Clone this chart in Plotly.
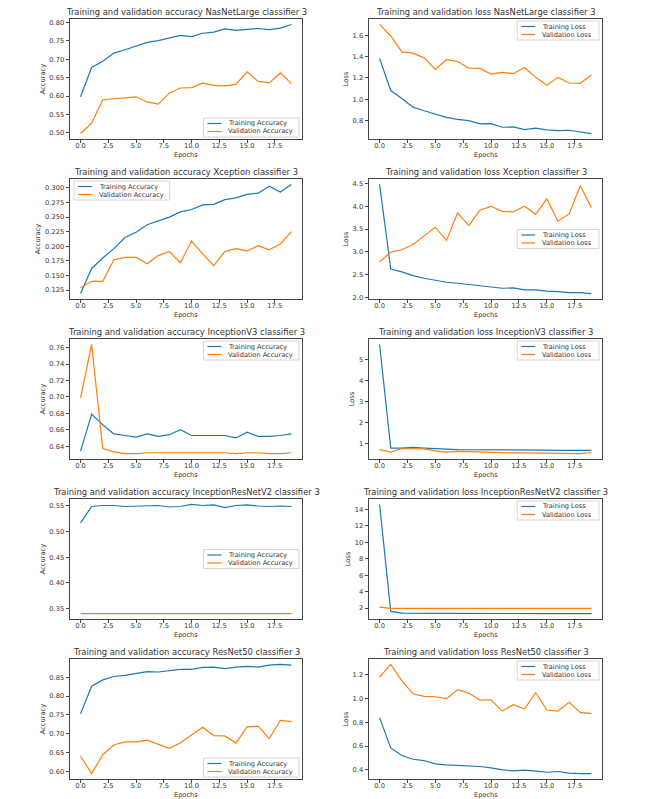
import plotly.graph_objects as go

epochs = list(range(20))

nasnet_train_acc = [0.598, 0.678, 0.695, 0.717, 0.726, 0.737, 0.746, 0.751, 0.759, 0.765,
                    0.762, 0.771, 0.774, 0.783, 0.779, 0.782, 0.784, 0.781, 0.785, 0.795]
nasnet_val_acc = [0.498, 0.526, 0.590, 0.593, 0.596, 0.598, 0.584, 0.578, 0.608, 0.622,
                  0.623, 0.635, 0.629, 0.628, 0.632, 0.666, 0.640, 0.636, 0.663, 0.634]
nasnet_train_loss = [1.383, 1.082, 1.008, 0.927, 0.893, 0.862, 0.831, 0.812, 0.800, 0.769,
                     0.772, 0.738, 0.741, 0.716, 0.729, 0.713, 0.707, 0.710, 0.695, 0.679]
nasnet_val_loss = [1.702, 1.594, 1.445, 1.433, 1.389, 1.281, 1.371, 1.355, 1.293, 1.290,
                   1.237, 1.253, 1.240, 1.299, 1.206, 1.132, 1.206, 1.153, 1.150, 1.228]

xception_train_acc = [0.119, 0.162, 0.180, 0.196, 0.215, 0.224, 0.237, 0.244, 0.250, 0.259,
                      0.263, 0.271, 0.272, 0.280, 0.283, 0.289, 0.291, 0.303, 0.293, 0.306]
xception_val_acc = [0.129, 0.140, 0.140, 0.177, 0.181, 0.181, 0.170, 0.184, 0.191, 0.172,
                    0.209, 0.187, 0.167, 0.191, 0.196, 0.192, 0.201, 0.194, 0.204, 0.225]
xception_train_loss = [4.485, 2.621, 2.556, 2.475, 2.417, 2.373, 2.329, 2.307, 2.278, 2.256,
                       2.234, 2.197, 2.205, 2.161, 2.161, 2.132, 2.124, 2.102, 2.102, 2.080]
xception_val_loss = [2.775, 2.994, 3.045, 3.162, 3.352, 3.542, 3.250, 3.857, 3.579, 3.915,
                     4.003, 3.893, 3.879, 4.003, 3.827, 4.164, 3.674, 3.835, 4.456, 3.974]

inception_train_acc = [0.634, 0.679, 0.666, 0.655, 0.653, 0.651, 0.655, 0.652, 0.654, 0.660,
                       0.653, 0.653, 0.653, 0.653, 0.650, 0.657, 0.652, 0.652, 0.653, 0.655]
inception_val_acc = [0.699, 0.764, 0.637, 0.633, 0.631, 0.631, 0.632, 0.632, 0.632, 0.632,
                     0.632, 0.632, 0.632, 0.632, 0.631, 0.632, 0.632, 0.631, 0.631, 0.632]
inception_train_loss = [5.72, 0.80, 0.80, 0.83, 0.80, 0.76, 0.75, 0.73, 0.73, 0.72,
                        0.70, 0.70, 0.70, 0.70, 0.72, 0.70, 0.69, 0.69, 0.69, 0.69]
inception_val_loss = [0.73, 0.61, 0.78, 0.78, 0.76, 0.67, 0.61, 0.64, 0.62, 0.61,
                      0.59, 0.56, 0.57, 0.57, 0.57, 0.57, 0.57, 0.57, 0.54, 0.59]

incres_train_acc = [0.517, 0.549, 0.551, 0.551, 0.549, 0.550, 0.551, 0.551, 0.548, 0.549,
                    0.553, 0.551, 0.552, 0.547, 0.551, 0.552, 0.550, 0.549, 0.550, 0.549]
incres_val_acc = [0.340] * 20
incres_train_loss = [14.6, 1.60, 1.39, 1.35, 1.39, 1.35, 1.35, 1.34, 1.34, 1.34,
                     1.34, 1.34, 1.34, 1.34, 1.34, 1.34, 1.34, 1.34, 1.34, 1.34]
incres_val_loss = [2.12, 1.96, 1.96, 1.96, 1.96, 1.97, 1.98, 1.97, 1.97, 1.97,
                   1.97, 1.97, 1.97, 2.00, 2.04, 2.04, 2.00, 1.97, 1.97, 1.97]

resnet_train_acc = [0.753, 0.826, 0.843, 0.852, 0.855, 0.861, 0.865, 0.864, 0.867, 0.871,
                    0.871, 0.876, 0.877, 0.873, 0.877, 0.879, 0.877, 0.882, 0.884, 0.882]
resnet_val_acc = [0.640, 0.594, 0.644, 0.670, 0.678, 0.678, 0.683, 0.672, 0.661, 0.676,
                  0.697, 0.717, 0.695, 0.694, 0.675, 0.718, 0.720, 0.687, 0.735, 0.732]
resnet_train_loss = [0.838, 0.584, 0.520, 0.489, 0.478, 0.450, 0.442, 0.436, 0.436, 0.428,
                     0.417, 0.400, 0.392, 0.397, 0.389, 0.380, 0.386, 0.372, 0.369, 0.369]
resnet_val_loss = [1.178, 1.284, 1.147, 1.038, 1.016, 1.013, 0.997, 1.072, 1.044, 0.985,
                   0.988, 0.893, 0.946, 0.910, 1.047, 0.902, 0.893, 0.966, 0.882, 0.871]

BLUE = "#1f77b4"
ORANGE = "#ff7f0e"
FONT = "DejaVu Sans"
TXT = "#333333"
W, H = 666, 799

# (title, train, val, ylabel, dtick, tickformat, legend corner)
panels = [
    ("Training and validation accuracy NasNetLarge classifier 3", nasnet_train_acc, nasnet_val_acc,
     "Accuracy", 0.05, ".2f", "lower right"),
    ("Training and validation loss NasNetLarge classifier 3", nasnet_train_loss, nasnet_val_loss,
     "Loss", 0.2, ".1f", "upper right"),
    ("Training and validation accuracy Xception classifier 3", xception_train_acc, xception_val_acc,
     "Accuracy", 0.025, ".3f", "upper left"),
    ("Training and validation loss Xception classifier 3", xception_train_loss, xception_val_loss,
     "Loss", 0.5, ".1f", "center right"),
    ("Training and validation accuracy InceptionV3 classifier 3", inception_train_acc, inception_val_acc,
     "Accuracy", 0.02, ".2f", "upper right"),
    ("Training and validation loss InceptionV3 classifier 3", inception_train_loss, inception_val_loss,
     "Loss", 1, "d", "upper right"),
    ("Training and validation accuracy InceptionResNetV2 classifier 3", incres_train_acc, incres_val_acc,
     "Accuracy", 0.05, ".2f", "center right"),
    ("Training and validation loss InceptionResNetV2 classifier 3", incres_train_loss, incres_val_loss,
     "Loss", 2, "d", "upper right"),
    ("Training and validation accuracy ResNet50 classifier 3", resnet_train_acc, resnet_val_acc,
     "Accuracy", 0.05, ".2f", "lower right"),
    ("Training and validation loss ResNet50 classifier 3", resnet_train_loss, resnet_val_loss,
     "Loss", 0.2, ".1f", "upper right"),
]

col_px = [(70, 302), (369, 602)]
row_top_px = [19, 179, 339, 499, 659]
plot_h = 120

fig = go.Figure()
layout = {}
annotations = []
shapes = []

for i, (title, train, val, ylabel, dtick, fmt, corner) in enumerate(panels):
    n = i + 1
    sfx = "" if n == 1 else str(n)
    row, col = divmod(i, 2)
    x0, x1 = col_px[col]
    top = row_top_px[row]
    bot = top + plot_h
    plot_w = x1 - x0
    xd = [x0 / W, x1 / W]
    yd = [1 - bot / H, 1 - top / H]
    names = [f"Training {ylabel}", f"Validation {ylabel}"]

    for ys, nm, color in ((train, names[0], BLUE), (val, names[1], ORANGE)):
        fig.add_trace(go.Scatter(x=epochs, y=ys, mode="lines", name=nm, showlegend=False,
                                 line=dict(color=color, width=1.2),
                                 xaxis=f"x{sfx}", yaxis=f"y{sfx}"))

    lo = min(train + val)
    hi = max(train + val)
    pad = 0.05 * (hi - lo)

    axis_common = dict(showline=True, mirror=True, linecolor="#444", linewidth=0.8,
                       ticks="outside", ticklen=3.5, tickwidth=0.8, tickcolor="#444",
                       showgrid=False, zeroline=False, automargin=False,
                       tickfont=dict(family=FONT, size=6.7, color=TXT))
    layout[f"xaxis{sfx}"] = dict(axis_common, domain=xd, anchor=f"y{sfx}", range=[-0.95, 19.95],
                                 tick0=0, dtick=2.5, tickformat=".1f", ticklabelstandoff=-3)
    layout[f"yaxis{sfx}"] = dict(axis_common, domain=yd, anchor=f"x{sfx}", range=[lo - pad, hi + pad],
                                 tick0=0, dtick=dtick, tickformat=fmt,
                                 title=dict(text=ylabel, standoff=3,
                                            font=dict(family=FONT, size=6.7, color=TXT)))

    xr, yr = f"x{sfx} domain", f"y{sfx} domain"
    annotations.append(dict(text=title, xref=xr, yref=yr, x=0.5, y=1, xanchor="center",
                            yanchor="bottom", yshift=0, showarrow=False,
                            font=dict(family=FONT, size=8.4, color=TXT)))
    annotations.append(dict(text="Epochs", xref=xr, yref=yr, x=0.5, y=0, xanchor="center",
                            yanchor="middle", yshift=-16, showarrow=False,
                            font=dict(family=FONT, size=6.6, color=TXT)))

    # matplotlib-style legend box, sized in pixels from the plot corner
    box_w = 30 + 3.45 * max(len(s) for s in names)
    box_h = 19
    vert, horiz = corner.split()
    bl = plot_w - 3 - box_w if horiz == "right" else 4
    if vert == "upper":
        bt = 2
    elif vert == "lower":
        bt = plot_h - 2 - box_h
    else:
        bt = (plot_h - box_h) / 2

    def fx(px):
        return px / plot_w

    def fy(py):
        return 1 - py / plot_h

    shapes.append(dict(type="rect", xref=xr, yref=yr, x0=fx(bl), x1=fx(bl + box_w),
                       y0=fy(bt + box_h), y1=fy(bt), fillcolor="rgba(255,255,255,0.85)",
                       line=dict(color="#cccccc", width=0.8), layer="above"))
    for k, (nm, color) in enumerate(zip(names, (BLUE, ORANGE))):
        cy = bt + 5.5 + 8 * k
        shapes.append(dict(type="line", xref=xr, yref=yr, x0=fx(bl + 4), x1=fx(bl + 18),
                           y0=fy(cy), y1=fy(cy), line=dict(color=color, width=1.2), layer="above"))
        annotations.append(dict(text=nm, xref=xr, yref=yr, x=fx(bl + 23), y=fy(cy),
                                xanchor="left", yanchor="middle", showarrow=False,
                                font=dict(family=FONT, size=6.6, color=TXT)))

fig.update_layout(**layout)
fig.update_layout(
    width=W, height=H,
    margin=dict(l=0, r=0, t=0, b=0),
    paper_bgcolor="white", plot_bgcolor="white",
    annotations=annotations, shapes=shapes, showlegend=False,
    font=dict(family=FONT, size=6.7, color=TXT),
)

fig.write_html("out.html", config={"displayModeBar": False},
               post_script="document.body.style.margin='0';")
